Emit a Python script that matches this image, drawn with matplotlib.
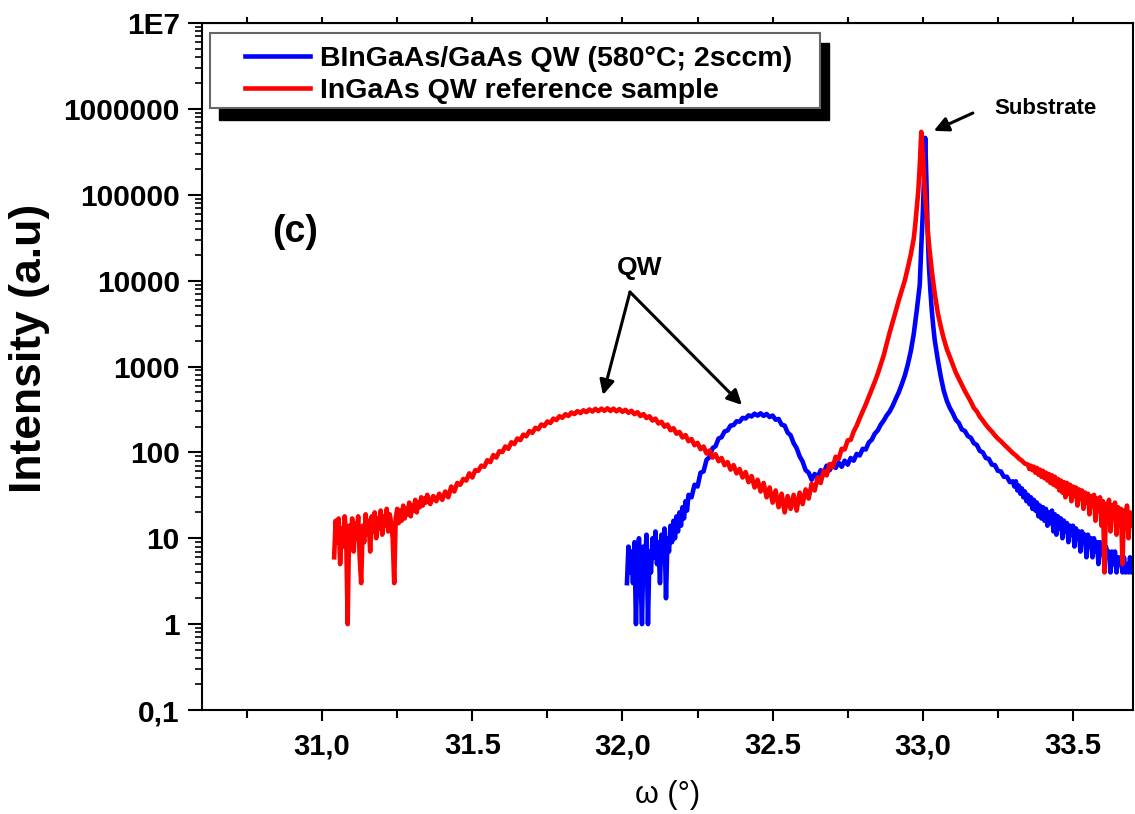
import matplotlib
matplotlib.use("Agg")
import matplotlib.pyplot as plt
from matplotlib import font_manager
from matplotlib.patches import Rectangle
from matplotlib.ticker import LogLocator, NullFormatter

# ---- data (omega in degrees, intensity in a.u.) ----
# InGaAs QW reference sample (red)
red_x = [
    31.040, 31.045, 31.050, 31.055, 31.060, 31.065, 31.070, 31.075, 31.080, 31.085,
    31.090, 31.095, 31.100, 31.105, 31.110, 31.115, 31.120, 31.125, 31.130, 31.135,
    31.140, 31.145, 31.150, 31.155, 31.160, 31.165, 31.170, 31.175, 31.180, 31.185,
    31.190, 31.195, 31.200, 31.205, 31.210, 31.215, 31.220, 31.225, 31.230, 31.235,
    31.240, 31.245, 31.250, 31.255, 31.260, 31.265, 31.270, 31.275, 31.280, 31.285,
    31.290, 31.295, 31.300, 31.305, 31.310, 31.315, 31.320, 31.325, 31.330, 31.335,
    31.340, 31.345, 31.350,
    31.36, 31.37, 31.38, 31.39, 31.40, 31.41, 31.42, 31.43, 31.44, 31.45,
    31.46, 31.47, 31.48, 31.49, 31.50, 31.51, 31.52, 31.53, 31.54, 31.55,
    31.56, 31.57, 31.58, 31.59, 31.60, 31.61, 31.62, 31.63, 31.64, 31.65,
    31.66, 31.67, 31.68, 31.69, 31.70, 31.71, 31.72, 31.73, 31.74, 31.75,
    31.76, 31.77, 31.78, 31.79, 31.80, 31.81, 31.82, 31.83, 31.84, 31.85,
    31.86, 31.87, 31.88, 31.89, 31.90, 31.91, 31.92, 31.93, 31.94, 31.95,
    31.96, 31.97, 31.98, 31.99, 32.00, 32.01, 32.02, 32.03, 32.04, 32.05,
    32.06, 32.07, 32.08, 32.09, 32.10, 32.11, 32.12, 32.13, 32.14, 32.15,
    32.16, 32.17, 32.18, 32.19, 32.20, 32.21, 32.22, 32.23, 32.24, 32.25,
    32.26, 32.27, 32.28, 32.29, 32.30, 32.31, 32.32, 32.33, 32.34, 32.35,
    32.36, 32.37, 32.38, 32.39, 32.40, 32.41, 32.42, 32.43, 32.44, 32.45,
    32.46, 32.47, 32.48, 32.49, 32.50, 32.51, 32.52, 32.53, 32.54, 32.55,
    32.56, 32.57, 32.58, 32.59, 32.60, 32.61, 32.62, 32.63, 32.64, 32.65,
    32.66, 32.67, 32.68, 32.69, 32.70, 32.71, 32.72, 32.73, 32.74, 32.75,
    32.76, 32.77,
    32.78, 32.79, 32.80, 32.81, 32.82, 32.83, 32.84, 32.85, 32.86, 32.87,
    32.88, 32.89, 32.90, 32.91, 32.92, 32.93, 32.94, 32.95, 32.96, 32.97,
    32.975, 32.980, 32.985, 32.990, 32.995, 33.000, 33.005, 33.010, 33.015, 33.020,
    33.03, 33.04, 33.05, 33.06, 33.07, 33.08, 33.09, 33.10, 33.11, 33.12,
    33.13, 33.14, 33.15, 33.16, 33.17, 33.18, 33.19, 33.20, 33.21, 33.22,
    33.23, 33.24, 33.25, 33.26, 33.27, 33.28, 33.29, 33.30, 33.31, 33.32,
    33.33, 33.34,
    33.350, 33.355, 33.360, 33.365, 33.370, 33.375, 33.380, 33.385, 33.390, 33.395,
    33.400, 33.405, 33.410, 33.415, 33.420, 33.425, 33.430, 33.435, 33.440, 33.445,
    33.450, 33.455, 33.460, 33.465, 33.470, 33.475, 33.480, 33.485, 33.490, 33.495,
    33.500, 33.505, 33.510, 33.515, 33.520, 33.525, 33.530, 33.535, 33.540, 33.545,
    33.550, 33.555, 33.560, 33.565, 33.570, 33.575, 33.580, 33.585, 33.590, 33.595,
    33.600, 33.605, 33.610, 33.615, 33.620, 33.625, 33.630, 33.635, 33.640, 33.645,
    33.650, 33.655, 33.660, 33.665, 33.670, 33.675, 33.680, 33.685, 33.690, 33.695,
    33.700,
]
red_y = [
    6, 16, 9, 17, 5, 13, 8, 18, 11, 1,
    14, 9, 17, 7, 15, 10, 18, 6, 3, 14,
    9, 19, 11, 16, 7, 18, 12, 20, 10, 17,
    13, 21, 11, 18, 14, 22, 12, 19, 15, 10,
    3, 17, 22, 15, 21, 16, 24, 17, 22, 19,
    26, 18, 24, 21, 28, 20, 26, 23, 30, 24,
    29, 26, 32,
    25, 31, 27, 33, 28, 35, 30, 40, 35, 44,
    42, 49, 47, 57, 51, 62, 61, 70, 68, 81,
    77, 93, 87, 103, 101, 117, 110, 131, 125, 145,
    139, 161, 154, 177, 169, 193, 186, 211, 203, 229,
    220, 247, 238, 263, 253, 278, 266, 291, 279, 302,
    287, 309, 294, 316, 299, 321, 303, 323, 305, 326,
    304, 323, 301, 319, 297, 313, 289, 305, 279, 293,
    265, 279, 251, 263, 235, 247, 217, 227, 199, 211,
    181, 191, 165, 173, 149, 159, 135, 143, 121, 129,
    109, 117, 97, 105, 87, 95, 79, 86, 71, 77,
    63, 71, 57, 64, 51, 59, 45, 53, 39, 48,
    35, 44, 30, 39, 26, 36, 23, 33, 20, 31,
    22, 32, 21, 34, 25, 37, 29, 43, 36, 51,
    44, 61, 54, 73, 67, 89, 84, 110, 108, 138,
    140, 175,
    205, 250, 300, 360, 440, 540, 660, 820, 1050, 1350,
    1850, 2500, 3300, 4400, 5900, 7700, 10000, 14000, 20000, 31000,
    45000, 70000, 110000, 220000, 540000, 300000, 140000, 80000, 45000, 28000,
    13000, 7000, 4200, 2900, 2100, 1600, 1300, 1050, 850, 720,
    610, 520, 450, 390, 330, 300, 260, 235, 210, 190,
    175, 158, 145, 135, 124, 115, 106, 98, 92, 85,
    80, 74,
    72, 64, 70, 62, 68, 58, 66, 55, 63, 52,
    61, 50, 58, 47, 56, 44, 54, 42, 52, 40,
    49, 36, 47, 34, 45, 30, 44, 33, 42, 27,
    40, 31, 39, 24, 37, 29, 36, 22, 34, 26,
    33, 19, 31, 24, 32, 16, 29, 21, 30, 14,
    27, 4, 25, 17, 28, 12, 24, 18, 26, 11,
    23, 15, 22, 5, 21, 13, 24, 10, 20, 14,
    19,
]

# BInGaAs/GaAs QW (blue)
blue_x = [
    32.015, 32.020, 32.025, 32.030, 32.035, 32.040, 32.045, 32.050, 32.055, 32.060,
    32.065, 32.070, 32.075, 32.080, 32.085, 32.090, 32.095, 32.100, 32.105, 32.110,
    32.115, 32.120, 32.125, 32.130, 32.135, 32.140, 32.145, 32.150, 32.155, 32.160,
    32.165, 32.170, 32.175, 32.180, 32.185, 32.190, 32.195, 32.200, 32.205, 32.210,
    32.215, 32.220,
    32.23, 32.24, 32.25, 32.26, 32.27, 32.28, 32.29, 32.30, 32.31, 32.32,
    32.33, 32.34, 32.35, 32.36, 32.37, 32.38, 32.39, 32.40, 32.41, 32.42,
    32.43, 32.44, 32.45, 32.46, 32.47, 32.48, 32.49, 32.50, 32.51, 32.52,
    32.53, 32.54, 32.55, 32.56, 32.57, 32.58, 32.59, 32.60, 32.61, 32.62,
    32.63, 32.64, 32.65, 32.66, 32.67, 32.68, 32.69, 32.70, 32.71, 32.72,
    32.73, 32.74, 32.75, 32.76, 32.77, 32.78, 32.79, 32.80, 32.81, 32.82,
    32.83, 32.84, 32.85, 32.86, 32.87, 32.88, 32.89, 32.90, 32.91, 32.92,
    32.93, 32.94, 32.95, 32.96, 32.97, 32.98, 32.99,
    32.995, 33.000, 33.004, 33.008, 33.012, 33.016, 33.020, 33.025, 33.030, 33.035,
    33.04, 33.05, 33.06, 33.07, 33.08, 33.09, 33.10, 33.11, 33.12, 33.13,
    33.14, 33.15, 33.16, 33.17, 33.18, 33.19, 33.20, 33.21, 33.22, 33.23,
    33.24, 33.25, 33.26, 33.27, 33.28, 33.29, 33.30,
    33.305, 33.310, 33.315, 33.320, 33.325, 33.330, 33.335, 33.340, 33.345, 33.350,
    33.355, 33.360, 33.365, 33.370, 33.375, 33.380, 33.385, 33.390, 33.395, 33.400,
    33.405, 33.410, 33.415, 33.420, 33.425, 33.430, 33.435, 33.440, 33.445, 33.450,
    33.455, 33.460, 33.465, 33.470, 33.475, 33.480, 33.485, 33.490, 33.495, 33.500,
    33.505, 33.510, 33.515, 33.520, 33.525, 33.530, 33.535, 33.540, 33.545, 33.550,
    33.555, 33.560, 33.565, 33.570, 33.575, 33.580, 33.585, 33.590, 33.595, 33.600,
    33.605, 33.610, 33.615, 33.620, 33.625, 33.630, 33.635, 33.640, 33.645, 33.650,
    33.655, 33.660, 33.665, 33.670, 33.675, 33.680, 33.685, 33.690, 33.695, 33.700,
]
blue_y = [
    3, 8, 4, 7, 3, 9, 1, 6, 10, 4,
    1, 8, 5, 11, 1, 7, 4, 10, 6, 12,
    5, 9, 3, 11, 6, 13, 2, 10, 7, 14,
    9, 16, 10, 18, 12, 20, 14, 23, 17, 27,
    21, 32,
    30, 42, 40, 58, 60, 82, 88, 112, 118, 145,
    150, 175, 180, 205, 208, 230, 228, 252, 248, 270,
    262, 282, 268, 285, 266, 280, 258, 268, 240, 245,
    210, 205, 170, 158, 128, 112, 90, 78, 62, 58,
    48, 56, 52, 62, 58, 70, 62, 74, 66, 76,
    68, 80, 72, 86, 80, 96, 92, 110, 108, 130,
    140, 165, 180, 210, 235, 270, 300, 350, 420, 500,
    620, 780, 1050, 1500, 2400, 4500, 9000,
    25000, 60000, 150000, 460000, 150000, 40000, 16000, 8000, 4500, 2900,
    2000, 1200, 760, 520, 400, 330, 285, 240, 220, 185,
    178, 155, 148, 128, 122, 104, 100, 86, 84, 72,
    71, 61, 60, 52, 52, 45, 46,
    40, 46, 36, 41, 33, 38, 30, 35, 27, 32,
    25, 30, 22, 28, 21, 26, 18, 24, 17, 23,
    16, 22, 14, 20, 15, 21, 12, 19, 11, 18,
    13, 17, 10, 16, 12, 15, 9, 14, 11, 14,
    8, 13, 10, 12, 7, 12, 9, 11, 6, 11,
    8, 10, 6, 10, 7, 9, 5, 9, 7, 8,
    5, 8, 6, 7, 4, 7, 5, 7, 4, 6,
    5, 6, 4, 6, 4, 5, 4, 6, 4, 5,
]

x_ticks = [31.0, 31.5, 32.0, 32.5, 33.0, 33.5]
x_ticklabels = ['31,0', '31.5', '32,0', '32.5', '33,0', '33.5']
x_minor = [30.75, 31.25, 31.75, 32.25, 32.75, 33.25]
y_ticks = [0.1, 1, 10, 100, 1000, 10000, 100000, 1000000, 10000000]
y_ticklabels = ['0,1', '1', '10', '100', '1000', '10000', '100000', '1000000', '1E7']

label_blue = 'BInGaAs/GaAs QW (580°C; 2sccm)'
label_red = 'InGaAs QW reference sample'

# ---- fonts ----
names = {f.name for f in font_manager.fontManager.ttflist}
WIDE = 'Liberation Sans'
NARROW = 'Liberation Sans Narrow' if 'Liberation Sans Narrow' in names else 'Liberation Sans'

W, H = 1135, 814
fig = plt.figure(figsize=(W / 100, H / 100), dpi=100)
ax = fig.add_axes([202 / W, 1 - 710 / H, 931 / W, 687 / H])

line_b, = ax.plot(blue_x, blue_y, color='#0000FF', lw=3.3, label=label_blue)
line_r, = ax.plot(red_x, red_y, color='#FF0000', lw=3.3, label=label_red)

ax.set_yscale('log')
ax.set_xlim(30.6, 33.7)
ax.set_ylim(0.1, 1e7)

ax.set_xticks(x_ticks)
ax.set_xticklabels(x_ticklabels, fontfamily=NARROW, fontweight='bold', fontsize=21)
ax.set_xticks(x_minor, minor=True)
ax.set_yticks(y_ticks)
ax.set_yticklabels(y_ticklabels, fontfamily=WIDE, fontweight='bold', fontsize=21.5)
ax.yaxis.set_minor_locator(LogLocator(base=10, subs=range(2, 10), numticks=30))
ax.yaxis.set_minor_formatter(NullFormatter())

ax.tick_params(axis='x', which='major', direction='out', length=8, width=1.5, pad=8)
ax.tick_params(axis='x', which='minor', direction='out', length=5.5, width=1.5)
ax.tick_params(axis='y', which='major', direction='out', length=10, width=1.5, pad=6)
ax.tick_params(axis='y', which='minor', direction='out', length=5, width=1.2)
for sp in ax.spines.values():
    sp.set_linewidth(1.5)

# ticks on the top spine
top = ax.secondary_xaxis('top')
top.set_xticks(sorted(x_ticks + x_minor))
top.set_xticklabels([])
top.tick_params(direction='out', length=4.5, width=1.5)
top.xaxis.set_minor_locator(plt.NullLocator())

ax.set_xlabel('ω (°)', fontfamily=NARROW, fontsize=22, labelpad=14)
ax.set_ylabel('Intensity (a.u)', fontfamily=NARROW, fontweight='bold', fontsize=32)
ax.yaxis.set_label_coords(-0.163, 0.527)

# annotations
ax.text(0.100, 0.696, '(c)', transform=ax.transAxes, fontfamily=WIDE, fontweight='bold',
        fontsize=27, ha='center', va='center')
ax.text(0.4705, 0.643, 'QW', transform=ax.transAxes, fontfamily=WIDE, fontweight='bold',
        fontsize=19, ha='center', va='center')
ax.text(0.906, 0.876, 'Substrate', transform=ax.transAxes, fontfamily=WIDE, fontweight='bold',
        fontsize=16, ha='center', va='center')
arrow = dict(arrowstyle='-|>', color='black', lw=2.2, mutation_scale=22, shrinkA=0, shrinkB=0)
ax.annotate('', xy=(0.4307, 0.4585), xytext=(0.4597, 0.6084), xycoords='axes fraction', arrowprops=arrow)
ax.annotate('', xy=(0.580, 0.444), xytext=(0.4597, 0.6084), xycoords='axes fraction', arrowprops=arrow)
ax.annotate('', xy=(0.786, 0.843), xytext=(0.828, 0.869), xycoords='axes fraction', arrowprops=arrow)

# legend box with a hard black shadow
fig.patches.append(Rectangle((219 / W, 1 - 120 / H), 610 / W, 77 / H, transform=fig.transFigure,
                             facecolor='black', edgecolor='black', zorder=3))
fig.patches.append(Rectangle((210 / W, 1 - 108 / H), 610 / W, 75 / H, transform=fig.transFigure,
                             facecolor='white', edgecolor='#666666', lw=1.5, zorder=4))
fig.legend([line_b, line_r], [label_blue, label_red], loc='upper left',
           bbox_to_anchor=(245 / W, 1 - 46 / H), frameon=False, borderpad=0, borderaxespad=0,
           handlelength=2.3, handletextpad=0.33, labelspacing=0.2,
           prop={'family': WIDE, 'weight': 'bold', 'size': 20.5})

fig.savefig('out.png', dpi=100)
